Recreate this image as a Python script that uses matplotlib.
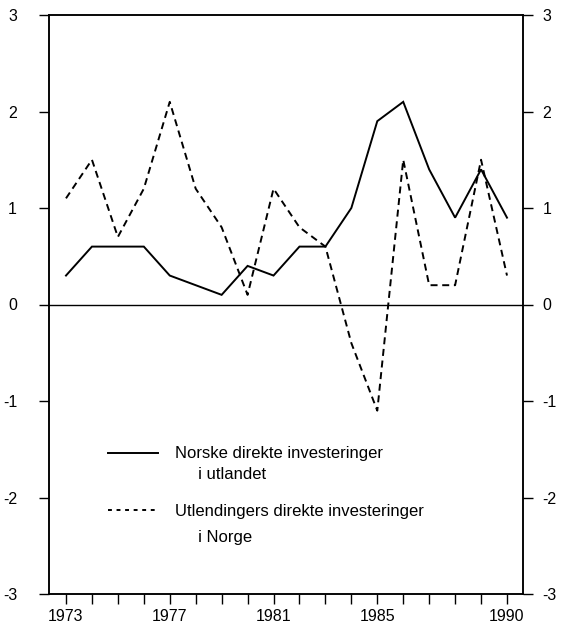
import matplotlib
matplotlib.use("Agg")
import matplotlib.pyplot as plt
from matplotlib.lines import Line2D

years = list(range(1973, 1991))
norske = [0.3, 0.6, 0.6, 0.6, 0.3, 0.2, 0.1, 0.4, 0.3, 0.6, 0.6, 1.0, 1.9, 2.1, 1.4, 0.9, 1.4, 0.9]
utlendinger = [1.1, 1.5, 0.7, 1.2, 2.1, 1.2, 0.8, 0.1, 1.2, 0.8, 0.6, -0.4, -1.1, 1.5, 0.2, 0.2, 1.5, 0.3]
xtick_labels = [1973, 1977, 1981, 1985, 1990]
yticks = [-3, -2, -1, 0, 1, 2, 3]
label_norske = ["Norske direkte investeringer", "     i utlandet"]
label_utl = ["Utlendingers direkte investeringer", "     i Norge"]

plt.rcParams['font.family'] = ['Liberation Sans', 'DejaVu Sans']

fig = plt.figure(figsize=(5.61, 6.29), dpi=100)
ax = fig.add_axes([49/561, 1-594/629, (523-49)/561, (594-15)/629])

ax.plot(years, norske, color='black', lw=1.4, solid_joinstyle='miter')
ax.plot(years, utlendinger, color='black', lw=1.4, linestyle=(0, (3.6, 2.4)))
ax.axhline(0, color='black', lw=1.0)

ax.set_xlim(1972.345, 1990.617)
ax.set_ylim(-3, 3)
ax.set_xticks(years)
ax.set_xticklabels([str(y) if y in xtick_labels else '' for y in years])
ax.set_yticks(yticks)
ax.set_yticklabels([str(v) for v in yticks])

ax.tick_params(axis='x', direction='out', length=7, width=1.0, pad=4, labelsize=11.5)
ax.tick_params(axis='y', direction='out', length=7, width=1.0, labelsize=11.5,
               left=True, right=False, labelleft=True, labelright=False, pad=16)
for s in ax.spines.values():
    s.set_linewidth(1.1)

ax2 = ax.twinx()
ax2.set_ylim(-3, 3)
ax2.set_yticks(yticks)
ax2.set_yticklabels([str(v) for v in yticks])
ax2.tick_params(axis='y', direction='out', length=7, width=1.0, labelsize=11.5, pad=7)
for s in ax2.spines.values():
    s.set_linewidth(1.1)

blank = Line2D([], [], color='none')
h1 = Line2D([], [], color='black', lw=1.4)
h2 = Line2D([], [], color='black', lw=1.4, linestyle=(0, (2.0, 2.4)))

leg1 = ax.legend([h1, blank], label_norske, loc='upper left', bbox_to_anchor=(0.125, 0.255),
                 frameon=False, fontsize=12, handlelength=3.0, handletextpad=1.0,
                 labelspacing=0.34, borderpad=0, borderaxespad=0)
ax.add_artist(leg1)
leg2 = ax.legend([h2, blank], label_utl, loc='upper left', bbox_to_anchor=(0.125, 0.155),
                 frameon=False, fontsize=12, handlelength=3.0, handletextpad=1.0,
                 labelspacing=0.64, borderpad=0, borderaxespad=0)

fig.savefig("out.png", dpi=100)
